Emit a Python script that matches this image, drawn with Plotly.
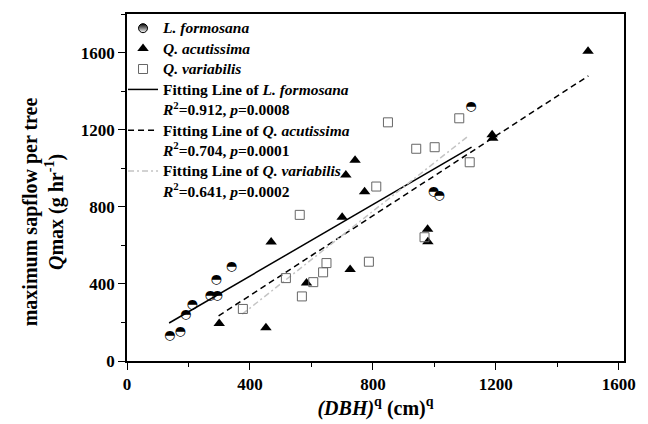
import plotly.graph_objects as go

# ---- data ----
lf_x = [139, 173, 191, 212, 271, 293, 290, 340, 997, 1016, 1119]
lf_y = [129, 151, 240, 290, 340, 340, 421, 491, 880, 858, 1318]

qa_x = [300, 452, 469, 584, 700, 712, 726, 742, 773, 978, 979, 1188, 1190, 1500]
qa_y = [195, 172, 617, 404, 746, 965, 474, 1041, 878, 684, 618, 1173, 1155, 1607]

qv_x = [377, 517, 562, 569, 606, 638, 649, 787, 811, 849, 941, 968, 1001, 1081, 1115]
qv_y = [270, 430, 758, 335, 409, 460, 508, 515, 905, 1238, 1101, 642, 1109, 1259, 1031]

fit_lf_x = [137, 1121]
fit_lf_y = [197, 1109]
fit_qa_x = [298, 1501]
fit_qa_y = [234, 1479]
fit_qv_x = [375, 1112]
fit_qv_y = [243, 1169]

stats_lf = "<i>R</i><sup>2</sup>=0.912, <i>p</i>=0.0008"
stats_qa = "<i>R</i><sup>2</sup>=0.704, <i>p</i>=0.0001"
stats_qv = "<i>R</i><sup>2</sup>=0.641, <i>p</i>=0.0002"

x_ticks = [0, 400, 800, 1200, 1600]
y_ticks = [0, 400, 800, 1200, 1600]

SERIF = "Liberation Serif, Times New Roman, serif"
LEG_PX = 15.5


def big(s):
    return '<span style="font-size:%.1fpx">%s</span>' % (LEG_PX, s)


fig = go.Figure()

# fitting lines (drawn first, under markers)
fig.add_trace(go.Scatter(
    x=fit_lf_x, y=fit_lf_y, mode="lines",
    line=dict(color="black", width=1.5, dash="solid"),
    name=big("Fitting Line of <i>L. formosana</i>"), legendrank=4))
fig.add_trace(go.Scatter(
    x=fit_qa_x, y=fit_qa_y, mode="lines",
    line=dict(color="black", width=1.5, dash="6px,4px"),
    name=big("Fitting Line of <i>Q. acutissima</i>"), legendrank=6))
fig.add_trace(go.Scatter(
    x=fit_qv_x, y=fit_qv_y, mode="lines",
    line=dict(color="#c4c4c4", width=1.5, dash="6px,3px,2px,3px"),
    name=big("Fitting Line of <i>Q. variabilis</i>"), legendrank=8))

# statistics rows of the legend (no visible mark)
for txt, rk in [(stats_lf, 5), (stats_qa, 7), (stats_qv, 9)]:
    fig.add_trace(go.Scatter(
        x=[None], y=[None], mode="lines",
        line=dict(color="rgba(0,0,0,0)", width=0),
        name=big(txt), legendrank=rk, hoverinfo="skip"))

# points
fig.add_trace(go.Scatter(
    x=lf_x, y=lf_y, mode="text", text=["\u25D3"] * len(lf_x),
    textposition="middle center",
    textfont=dict(family="DejaVu Sans", size=13, color="black"),
    showlegend=False, name="L. formosana"))
# legend symbol for L. formosana (half-filled circle look)
fig.add_trace(go.Scatter(
    x=[None], y=[None], mode="markers",
    marker=dict(symbol="circle", size=9, color="black",
                gradient=dict(type="vertical", color="white"),
                line=dict(color="black", width=1)),
    name=big("<i>L. formosana</i>"), legendrank=1))
fig.add_trace(go.Scatter(
    x=qa_x, y=qa_y, mode="markers",
    marker=dict(symbol="triangle-up", size=10, color="black"),
    name=big("<i>Q. acutissima</i>"), legendrank=2))
fig.add_trace(go.Scatter(
    x=qv_x, y=qv_y, mode="markers",
    marker=dict(symbol="square-open", size=9, color="#666666", line=dict(width=1)),
    name=big("<i>Q. variabilis</i>"), legendrank=3))

axis_common = dict(
    showline=True, linecolor="black", linewidth=1.5, mirror=True,
    ticks="outside", ticklen=7, tickwidth=1.2, tickcolor="black",
    showgrid=False, zeroline=False,
    tickfont=dict(family=SERIF, size=17, color="black", weight="bold"),
)

fig.update_xaxes(
    range=[0, 1617], tickvals=x_ticks,
    minor=dict(ticks="outside", ticklen=4, dtick=200, tick0=0, tickcolor="black", tickwidth=1.2),
    title=dict(text="<i>(DBH)</i><sup>q</sup> (cm)<sup>q</sup>",
               font=dict(family=SERIF, size=20, color="black", weight="bold"), standoff=4),
    **axis_common)
fig.update_yaxes(
    range=[0, 1800], tickvals=y_ticks,
    minor=dict(ticks="outside", ticklen=4, dtick=200, tick0=0, tickcolor="black", tickwidth=1.2),
    **axis_common)

# y-axis title (two lines, placed a little below the axis middle as in the reference)
fig.add_annotation(
    text="maximum sapflow per tree<br><i>Q</i>max (g hr<sup>-1</sup>)",
    xref="paper", yref="paper", x=-0.168, y=0.43,
    xanchor="center", yanchor="middle", textangle=-90, showarrow=False,
    align="center",
    font=dict(family=SERIF, size=20, color="black", weight="bold"))

fig.update_layout(
    width=648, height=424,
    margin=dict(l=127, r=19, t=13, b=57),
    paper_bgcolor="white", plot_bgcolor="white",
    showlegend=True,
    legend=dict(x=-0.008, y=1.003, xanchor="left", yanchor="top",
                bgcolor="rgba(0,0,0,0)", borderwidth=0,
                font=dict(family=SERIF, size=13.4, color="black", weight="bold"),
                tracegroupgap=0),
)

fig.write_html("out.html")
